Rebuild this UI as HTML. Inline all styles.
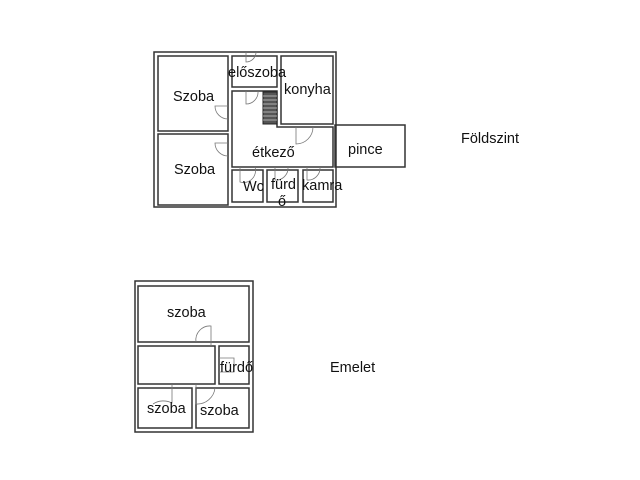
<!DOCTYPE html>
<html><head><meta charset="utf-8"><style>
html,body{margin:0;padding:0;background:#fff;}
svg{display:block;}
text{font-family:"Liberation Sans",sans-serif;font-size:14.5px;fill:#111;}
</style></head><body>
<svg width="640" height="480" viewBox="0 0 640 480" xmlns="http://www.w3.org/2000/svg">
<g fill="none" stroke="#333" stroke-width="1.5">
<rect x="154" y="52" width="182" height="155"/>
<rect x="158" y="56" width="70" height="75"/>
<rect x="158" y="134" width="70" height="71"/>
<rect x="232" y="56" width="45" height="31"/>
<rect x="281" y="56" width="52" height="68"/>
<path d="M232 91 H277 V127 H333 V167 H232 Z"/>
<rect x="335" y="125" width="70" height="42"/>
<rect x="232" y="170" width="31" height="32"/>
<rect x="267" y="170" width="31" height="32"/>
<rect x="303" y="170" width="30" height="32"/>
</g>
<g fill="none" stroke="#777" stroke-width="0.8">
<path d="M246 52 V62 A10 10 0 0 0 256 52"/>
<path d="M246 91 V104 A12 12 0 0 0 258 91"/>
<path d="M228 106 H215 A13 13 0 0 0 228 119"/>
<path d="M228 143 H215 A13 13 0 0 0 228 156"/>
<path d="M296 127 V144 A17 17 0 0 0 313 127"/>
<path d="M240 167 V182 A12 12 0 0 0 255 167"/>
<path d="M275 167 V180 A12 12 0 0 0 288 167"/>
<path d="M307 167 V180 A12 12 0 0 0 320 167"/>
</g>
<g stroke="#222" stroke-width="1">
<rect x="263" y="92" width="14" height="32" fill="#555"/>
<path d="M263 96 H277 M263 100 H277 M263 104 H277 M263 108 H277 M263 112 H277 M263 116 H277 M263 120 H277" stroke="#ccc" stroke-width="0.7"/>
</g>
<text x="173" y="101">Szoba</text>
<text x="174" y="174">Szoba</text>
<text x="228" y="77">előszoba</text>
<text x="284" y="94">konyha</text>
<text x="252" y="157">étkező</text>
<text x="348" y="154">pince</text>
<text x="243" y="191">Wc</text>
<text x="271" y="189">fürd</text>
<text x="278" y="206">ő</text>
<text x="302" y="190">kamra</text>
<text x="461" y="143">Földszint</text>
<g fill="none" stroke="#333" stroke-width="1.5">
<rect x="135" y="281" width="118" height="151"/>
<rect x="138" y="286" width="111" height="56"/>
<rect x="138" y="346" width="77" height="38"/>
<rect x="219" y="346" width="30" height="38"/>
<rect x="138" y="388" width="54" height="40"/>
<rect x="196" y="388" width="53" height="40"/>
</g>
<g fill="none" stroke="#777" stroke-width="0.8">
<path d="M211 346 V326 A14 14 0 0 0 196 342"/>
<path d="M172 384 V403 A19 19 0 0 0 153 404"/>
<path d="M196 384 V404 A18 18 0 0 0 215 388"/>
<path d="M219 358 H234 V372 H219"/>
</g>
<text x="167" y="317">szoba</text>
<text x="220" y="372">fürdő</text>
<text x="147" y="413">szoba</text>
<text x="200" y="415">szoba</text>
<text x="330" y="372">Emelet</text>
</svg>
</body></html>
